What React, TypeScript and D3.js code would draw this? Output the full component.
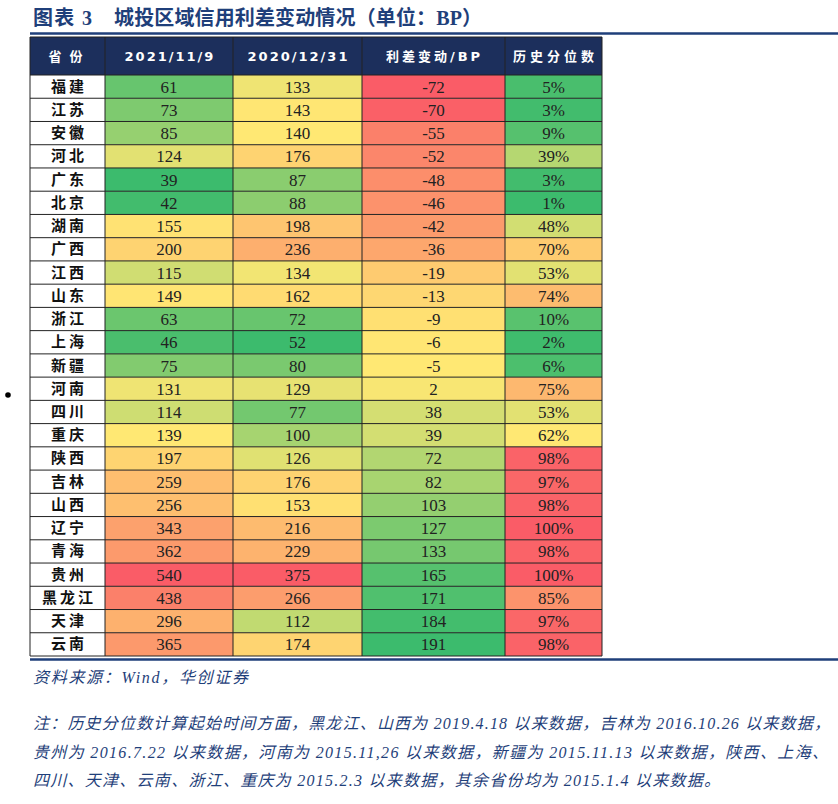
import React from "react";
import * as d3 from "d3";

const provinces = ["福建","江苏","安徽","河北","广东","北京","湖南","广西","江西","山东","浙江","上海","新疆","河南","四川","重庆","陕西","吉林","山西","辽宁","青海","贵州","黑龙江","天津","云南"];
const spread2021 = [61,73,85,124,39,42,155,200,115,149,63,46,75,131,114,139,197,259,256,343,362,540,438,296,365];
const spread2020 = [133,143,140,176,87,88,198,236,134,162,72,52,80,129,77,100,126,176,153,216,229,375,266,112,174];
const spreadChange = [-72,-70,-55,-52,-48,-46,-42,-36,-19,-13,-9,-6,-5,2,38,39,72,82,103,127,133,165,171,184,191];
const percentile = [5,3,9,39,3,1,48,70,53,74,10,2,6,75,53,62,98,97,98,100,98,100,85,97,98];
const headers = ["省份","2021/11/9","2020/12/31","利差变动/BP","历史分位数"];

const titleText = ["图表 3", "城投区域信用利差变动情况（单位：BP）"];
const sourceText = "资料来源：Wind，华创证券";
const noteLines = [
  "注：历史分位数计算起始时间方面，黑龙江、山西为 2019.4.18 以来数据，吉林为 2016.10.26 以来数据，",
  "贵州为 2016.7.22 以来数据，河南为 2015.11,26 以来数据，新疆为 2015.11.13 以来数据，陕西、上海、",
  "四川、天津、云南、浙江、重庆为 2015.2.3 以来数据，其余省份均为 2015.1.4 以来数据。",
];

const W = 838, H = 804;
const colEdges = [30, 105, 233, 362, 505, 602];
const headerTop = 37, rowsTop = 75, rowsBottom = 656;
const GREEN = "#3CBB6D", YELLOW = "#FFE873", RED = "#FA5C67";
const BLUE = "#1F3F7A";

function colorScale(vals: number[], highIsGood: boolean) {
  const ext = d3.extent(vals) as [number, number];
  const med = d3.median(vals) as number;
  return d3.scaleLinear<string>()
    .domain([ext[0], med, ext[1]])
    .range(highIsGood ? [RED, YELLOW, GREEN] : [GREEN, YELLOW, RED])
    .interpolate(d3.interpolateRgb);
}

export default function App() {
  const y = d3.scaleBand<string>().domain(provinces).range([rowsTop, rowsBottom]);
  const columns = [
    { vals: spread2021, fmt: (v: number) => String(v), color: colorScale(spread2021, false) },
    { vals: spread2020, fmt: (v: number) => String(v), color: colorScale(spread2020, false) },
    { vals: spreadChange, fmt: (v: number) => String(v), color: colorScale(spreadChange, true) },
    { vals: percentile, fmt: (v: number) => v + "%", color: colorScale(percentile, false) },
  ];
  const bw = y.bandwidth();
  const serifCJK = "'Liberation Serif','Noto Sans CJK SC',serif";
  return (
    <svg width={W} height={H} style={{ position: "absolute", left: 0, top: 0, background: "#fff" }}>
      {/* title */}
      <text x={33} y={25} fill={BLUE} fontWeight="bold" fontSize={20} fontFamily={serifCJK}
        textLength={59} lengthAdjust="spacing">{titleText[0]}</text>
      <text x={114} y={25} fill={BLUE} fontWeight="bold" fontSize={20} fontFamily={serifCJK}
        textLength={368} lengthAdjust="spacing">{titleText[1]}</text>
      <line x1={30} x2={W} y1={33.5} y2={33.5} stroke={BLUE} strokeWidth={2.5} />
      {/* bullet */}
      <circle cx={8} cy={395} r={2.8} fill="#000" />
      {/* header */}
      <rect x={colEdges[0]} y={headerTop} width={colEdges[5] - colEdges[0]} height={rowsTop - headerTop} fill="#1C2F5C" />
      {headers.map((h, i) => (
        <text key={h} x={(colEdges[i] + colEdges[i + 1]) / 2 + (i === 0 || i === 4 ? 2 : 1)} y={(headerTop + rowsTop) / 2 + 5}
          textAnchor="middle" fill="#fff" fontWeight="bold" fontSize={13}
          letterSpacing={i === 0 ? 8 : i === 4 ? 4 : i === 3 ? 3 : 2}
          fontFamily="'DejaVu Sans','Noto Sans CJK SC',sans-serif">{h}</text>
      ))}
      {/* cells */}
      {provinces.map((p, r) => {
        const yy = y(p) as number;
        return (
          <g key={p}>
            <rect x={colEdges[0]} y={yy} width={colEdges[1] - colEdges[0]} height={bw} fill="#fff" />
            <text x={(colEdges[0] + colEdges[1]) / 2 + 1.5} y={yy + bw / 2 + 5} textAnchor="middle" fontWeight="bold"
              fontSize={15} letterSpacing={3} fill="#111" fontFamily="'Noto Sans CJK SC',sans-serif">{p}</text>
            {columns.map((c, ci) => (
              <g key={ci}>
                <rect x={colEdges[ci + 1]} y={yy} width={colEdges[ci + 2] - colEdges[ci + 1]} height={bw} fill={c.color(c.vals[r])} />
                <text x={(colEdges[ci + 1] + colEdges[ci + 2]) / 2} y={yy + bw / 2 + 6} textAnchor="middle"
                  fontSize={17} fill="#222" fontFamily="'Liberation Serif',serif">{c.fmt(c.vals[r])}</text>
              </g>
            ))}
          </g>
        );
      })}
      {/* grid lines */}
      {provinces.map((p, r) => (
        <line key={"h" + r} x1={colEdges[0]} x2={colEdges[5]} y1={(y(p) as number)} y2={(y(p) as number)} stroke="#222" strokeWidth={1} />
      ))}
      <line x1={colEdges[0]} x2={colEdges[5]} y1={rowsBottom} y2={rowsBottom} stroke="#222" strokeWidth={1} />
      <line x1={colEdges[0]} x2={colEdges[5]} y1={headerTop} y2={headerTop} stroke="#222" strokeWidth={1} />
      {colEdges.map((x, i) => (
        <line key={"v" + i} x1={x} x2={x} y1={headerTop} y2={rowsBottom} stroke="#222" strokeWidth={1} />
      ))}
      <line x1={30} x2={W} y1={659.5} y2={659.5} stroke={BLUE} strokeWidth={2.5} />
      {/* source & notes */}
      <text x={33} y={683} fill={BLUE} fontStyle="italic" fontSize={16} fontFamily={serifCJK}
        textLength={215} lengthAdjust="spacing">{sourceText}</text>
      {noteLines.map((t, i) => (
        <text key={i} x={33} y={729 + i * 28.5} fill={BLUE} fontStyle="italic" fontSize={16}
          textLength={[797, 795, 687][i]} lengthAdjust="spacing"
          fontFamily={serifCJK}>{t}</text>
      ))}
    </svg>
  );
}
